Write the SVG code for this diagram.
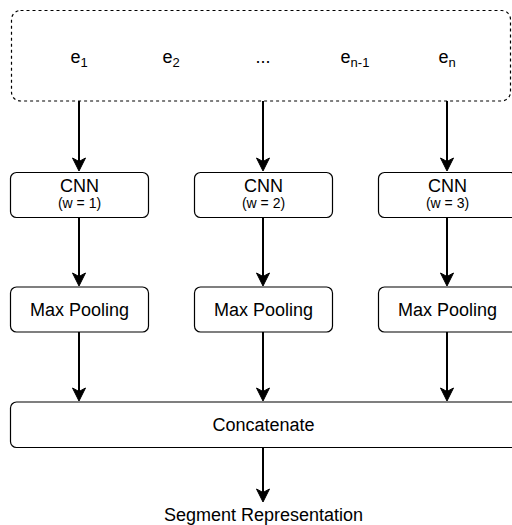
<svg xmlns="http://www.w3.org/2000/svg" width="512" height="525" viewBox="0 0 512 525">
<style>
.box{fill:#fff;stroke:#000;stroke-width:1.2}
.dash{fill:#fff;stroke:#000;stroke-width:1.2;stroke-dasharray:3 3}
.t{font-family:"Liberation Sans",Arial,Helvetica,sans-serif;font-size:18px;fill:#000;text-anchor:middle}
.s{font-family:"Liberation Sans",Arial,Helvetica,sans-serif;font-size:14px;fill:#000;text-anchor:middle}
.sub{font-size:13px}
.edge{stroke:#000;stroke-width:2;fill:none}
.head{fill:#000;stroke:#000;stroke-width:1}
</style>
<defs>
<path id="ah" d="M0,0 L-6.5,-13 L0,-9.5 L6.5,-13 Z"/>
</defs>
<g id="input">
<rect class="dash" x="11.5" y="10.5" width="499" height="90.5" rx="9"/>
<text class="t" x="79" y="63">e<tspan class="sub" dy="4">1</tspan></text>
<text class="t" x="171" y="63">e<tspan class="sub" dy="4">2</tspan></text>
<text class="t" x="263" y="63">...</text>
<text class="t" x="355" y="63">e<tspan class="sub" dy="4">n-1</tspan></text>
<text class="t" x="447" y="63">e<tspan class="sub" dy="4">n</tspan></text>
</g>
<g id="cnn1">
<rect class="box" x="10.5" y="172.5" width="138" height="45" rx="6"/>
<text class="t" x="79.5" y="192">CNN</text>
<text class="s" x="79.5" y="208">(w = 1)</text>
</g>
<g id="cnn2">
<rect class="box" x="194.5" y="172.5" width="138" height="45" rx="6"/>
<text class="t" x="263.5" y="192">CNN</text>
<text class="s" x="263.5" y="208">(w = 2)</text>
</g>
<g id="cnn3">
<rect class="box" x="378.5" y="172.5" width="138" height="45" rx="6"/>
<text class="t" x="447.5" y="192">CNN</text>
<text class="s" x="447.5" y="208">(w = 3)</text>
</g>
<g id="pool1">
<rect class="box" x="10.5" y="287" width="138" height="45" rx="6"/>
<text class="t" x="79.5" y="316">Max Pooling</text>
</g>
<g id="pool2">
<rect class="box" x="194.5" y="287" width="138" height="45" rx="6"/>
<text class="t" x="263.5" y="316">Max Pooling</text>
</g>
<g id="pool3">
<rect class="box" x="378.5" y="287" width="138" height="45" rx="6"/>
<text class="t" x="447.5" y="316">Max Pooling</text>
</g>
<g id="concat">
<rect class="box" x="10.5" y="402" width="520" height="45.5" rx="6"/>
<text class="t" x="263.5" y="431">Concatenate</text>
</g>
<g id="output">
<text class="t" x="263.5" y="521">Segment Representation</text>
</g>
<g id="connectors">
<line class="edge" x1="79" y1="101" x2="79" y2="163"/>
<use href="#ah" class="head" x="79" y="171"/>
<line class="edge" x1="263" y1="101" x2="263" y2="163"/>
<use href="#ah" class="head" x="263" y="171"/>
<line class="edge" x1="447" y1="101" x2="447" y2="163"/>
<use href="#ah" class="head" x="447" y="171"/>
<line class="edge" x1="79" y1="218" x2="79" y2="278"/>
<use href="#ah" class="head" x="79" y="286"/>
<line class="edge" x1="263" y1="218" x2="263" y2="278"/>
<use href="#ah" class="head" x="263" y="286"/>
<line class="edge" x1="447" y1="218" x2="447" y2="278"/>
<use href="#ah" class="head" x="447" y="286"/>
<line class="edge" x1="79" y1="332" x2="79" y2="393"/>
<use href="#ah" class="head" x="79" y="401"/>
<line class="edge" x1="263" y1="332" x2="263" y2="393"/>
<use href="#ah" class="head" x="263" y="401"/>
<line class="edge" x1="447" y1="332" x2="447" y2="393"/>
<use href="#ah" class="head" x="447" y="401"/>
<line class="edge" x1="263" y1="448" x2="263" y2="494"/>
<use href="#ah" class="head" x="263" y="502"/>
</g>
</svg>
